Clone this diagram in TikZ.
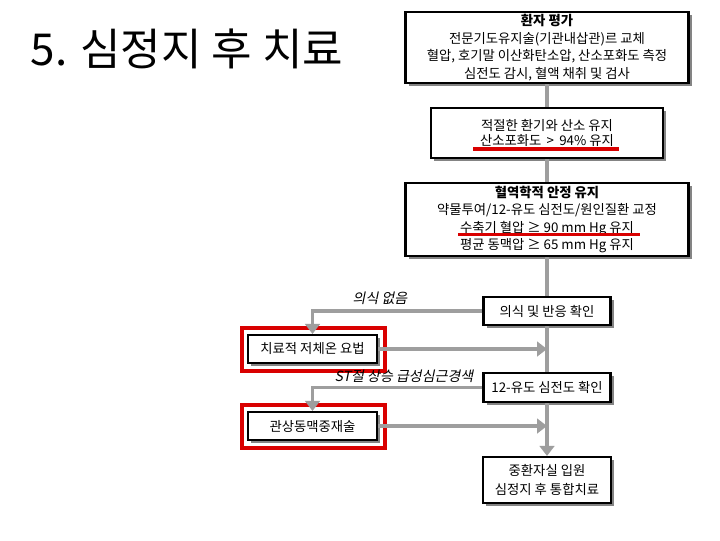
\documentclass[tikz,border=0pt]{standalone}
\usepackage{fontspec}
\setmainfont{Noto Sans CJK KR}
\newfontfamily\krit{Noto Sans CJK KR}[FakeSlant=0.2]
\usetikzlibrary{arrows.meta,shadows,fit}
\begin{document}
\begin{tikzpicture}[x=0.75pt,y=-0.75pt,
  box/.style={draw=black,line width=1.6pt,fill=white,align=center,inner sep=0pt,
    font=\fontsize{10}{13.2}\selectfont,
    drop shadow={shadow xshift=2.6pt,shadow yshift=-2.6pt,fill=black!60,opacity=0.8}},
  conn/.style={draw=black!38,line width=2.8pt},
  arr/.style={conn,-{Triangle[width=11pt,length=7.5pt]}},
  redframe/.style={draw=red!85!black,line width=2.6pt,inner sep=0pt},
  redline/.style={draw=red!85!black,line width=2.4pt},
  lbl/.style={font=\krit\fontsize{10.5}{12}\selectfont}]
\useasboundingbox (0,0) rectangle (720,540);
\fill[white] (0,0) rectangle (720,540);
\node[anchor=west,font=\fontsize{33}{38}\selectfont] (title) at (26,49) {5. 심정지 후 치료};

\node[box,minimum width=212.25pt,minimum height=53.25pt] (b1) at (547,47.5)
  {{\bfseries 환자 평가}\\전문기도유지술(기관내삽관)르 교체\\혈압, 호기말 이산화탄소압, 산소포화도 측정\\심전도 감시, 혈액 채취 및 검사};
\node[box,minimum width=174pt,minimum height=37.5pt,font=\fontsize{10}{11.8}\selectfont] (b2) at (547,133)
  {적절한 환기와 산소 유지\\산소포화도 \,>\, 94\% 유지};
\node[box,minimum width=212.25pt,minimum height=54.75pt] (b3) at (547,219.5)
  {{\bfseries 혈역학적 안정 유지}\\약물투여/12-유도 심전도/원인질환 교정\\수축기 혈압 ≥ 90 mm Hg 유지\\평균 동맥압 ≥ 65 mm Hg 유지};
\node[box,minimum width=95.25pt,minimum height=21pt] (b4) at (547,311) {의식 및 반응 확인};
\node[box,minimum width=96.75pt,minimum height=21pt] (b5) at (312.5,349) {치료적 저체온 요법};
\node[box,minimum width=95.25pt,minimum height=21.75pt] (b6) at (547,387.5) {12-유도 심전도 확인};
\node[box,minimum width=96.75pt,minimum height=21pt] (b7) at (312.5,426) {관상동맥중재술};
\node[box,minimum width=96pt,minimum height=34.5pt,font=\fontsize{10}{14}\selectfont] (b8) at (547,480)
  {중환자실 입원\\심정지 후 통합치료};

% red highlights
\draw[redline] (473,149) -- (619,149);
\draw[redline] (458,234.5) -- (640,234.5);
\draw[redframe] (242,328) rectangle (385,371);
\draw[redframe] (242,405) rectangle (385,448);

% connectors
\draw[conn] (b1.south) -- (b2.north);
\draw[conn] (b2.south) -- (b3.north);
\draw[conn] (b3.south) -- (b4.north);
\draw[conn] (b4.south) -- (b6.north);
\draw[arr] (b6.south) -- (b8.north);
\draw[arr] (b4.west) -| (b5.north);
\draw[arr] (b5.east) -- (b5.east -| b4.center);
\draw[arr] (b6.west) -| (b7.north);
\draw[arr] (b7.east) -- (b7.east -| b4.center);

\node[lbl] (l1) at (380,298) {의식 없음};
\node[lbl] (l2) at (404,376) {ST절 상승 급성심근경색};
\end{tikzpicture}
\end{document}
